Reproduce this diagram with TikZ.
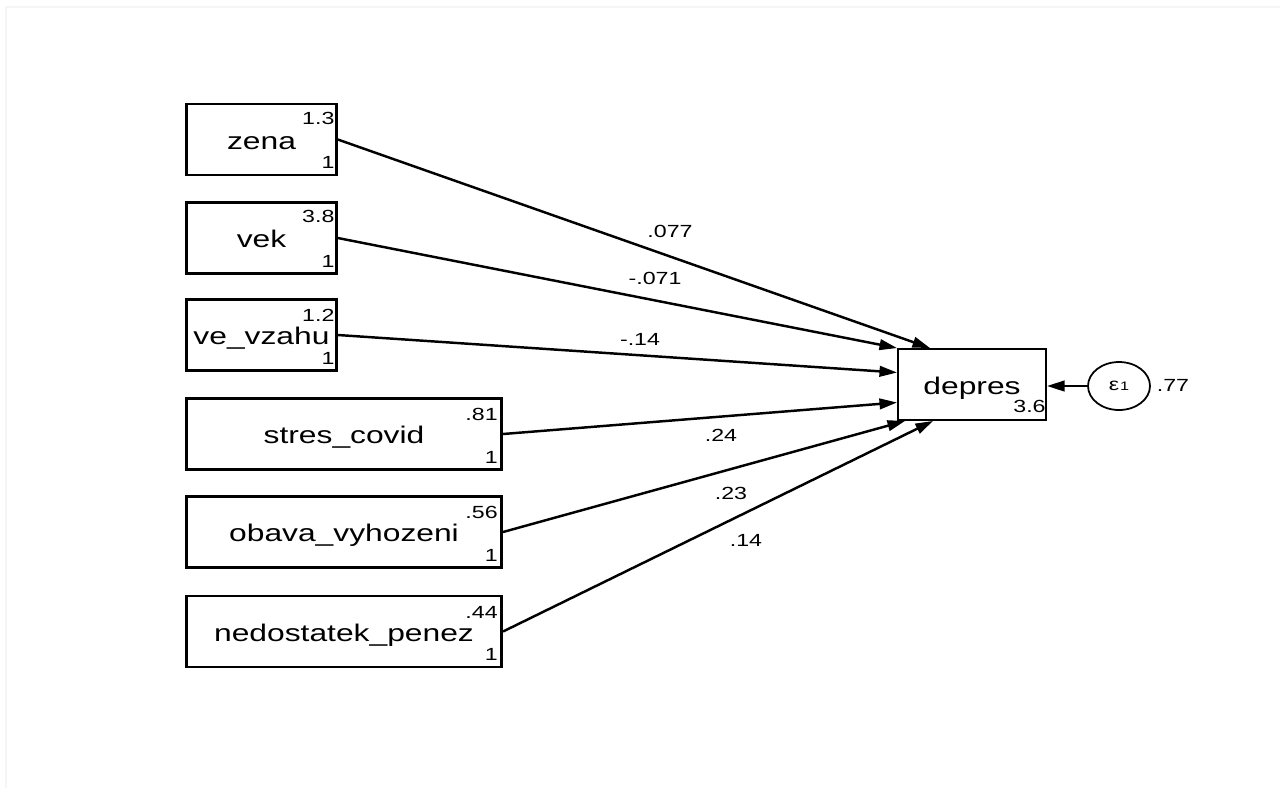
\documentclass[tikz,border=0pt]{standalone}
\usepackage{fontspec}
\setmainfont{Liberation Sans}[FakeStretch=1.32]
\usetikzlibrary{arrows.meta,calc,shapes.geometric}

\tikzset{
  var/.style={draw, line width=1.5pt, minimum height=1.42cm, inner sep=0pt,
    text height=12pt, text depth=1pt,
    font=\fontsize{13.7}{16}\selectfont},
  shortvar/.style={var, minimum width=3.0cm},
  longvar/.style={var, minimum width=6.31cm},
  num/.style={inner sep=0pt, font=\fontsize{10}{12}\selectfont},
  coef/.style={inner sep=0pt, font=\fontsize{10}{12}\selectfont},
  coefarrow/.style={line width=1.4pt, -{Stealth[length=10pt,width=6pt,inset=0pt]}},
}

\begin{document}
\begin{tikzpicture}[x=0.02cm, y=-0.02cm]
            \useasboundingbox (0,0) rectangle (1280,788);
            \draw [black!4, line width=1pt] (6,788) -- (6,7) -- (1280,7);

            % exogenous variables
            \node [shortvar] (zena) at (261.5,139.5) {zena};
            \node [shortvar] (vek) at (261.5,238) {vek};
            \node [shortvar] (vzahu) at (261.5,335) {ve\_vzahu};
            \node [longvar] (stres) at (344,434) {stres\_covid};
            \node [longvar] (obava) at (344,532) {obava\_vyhozeni};
            \node [longvar] (penize) at (344,631.5) {nedostatek\_penez};

            % means and variances
            \node [num, anchor=north east] (zena-m) at ($(zena.north east)+(-3,9)$) {1.3};
            \node [num, anchor=south east] (zena-v) at ($(zena.south east)+(-3,-7)$) {1};
            \node [num, anchor=north east] (vek-m) at ($(vek.north east)+(-3,9)$) {3.8};
            \node [num, anchor=south east] (vek-v) at ($(vek.south east)+(-3,-7)$) {1};
            \node [num, anchor=north east] (vzahu-m) at ($(vzahu.north east)+(-3,11)$) {1.2};
            \node [num, anchor=south east] (vzahu-v) at ($(vzahu.south east)+(-3,-7)$) {1};
            \node [num, anchor=north east] (stres-m) at ($(stres.north east)+(-5,11)$) {.81};
            \node [num, anchor=south east] (stres-v) at ($(stres.south east)+(-5,-7)$) {1};
            \node [num, anchor=north east] (obava-m) at ($(obava.north east)+(-5,11)$) {.56};
            \node [num, anchor=south east] (obava-v) at ($(obava.south east)+(-5,-7)$) {1};
            \node [num, anchor=north east] (penize-m) at ($(penize.north east)+(-5,11)$) {.44};
            \node [num, anchor=south east] (penize-v) at ($(penize.south east)+(-5,-7)$) {1};

            % outcome and error
            \node [var, line width=1.1pt, minimum width=2.96cm] (depres) at (972,384.5) {depres};
            \node [num, anchor=south east] (depres-m) at ($(depres.south east)+(-1,-8)$) {3.6};
            \node [draw, ellipse, line width=1pt, minimum width=1.24cm, minimum height=0.96cm,
                   inner sep=0pt, font=\fontsize{10}{12}\selectfont] (eps) at (1119,386)
                  {ε\kern0.5pt{\fontsize{7}{8}\selectfont 1}};
            \node [num] (eps-v) at (1173,385) {.77};

            % paths
            \draw [coefarrow] (zena.east) -- ($(depres.north west)+(33,0)$);
            \draw [coefarrow] (vek.east) -- (depres.north west);
            \draw [coefarrow] (vzahu.east) -- ($(depres.west)+(0,-12)$);
            \draw [coefarrow] (stres.east) -- ($(depres.west)+(0,18)$);
            \draw [coefarrow] (obava.east) -- ($(depres.south west)+(8,0)$);
            \draw [coefarrow] (penize.east) -- ($(depres.south west)+(36,0)$);
            \draw [coefarrow] (eps.west) -- (eps.west -| depres.east);

            \node [coef] (c-zena) at (670,231) {.077};
            \node [coef] (c-vek) at (655,278) {-.071};
            \node [coef] (c-vzahu) at (640,339) {-.14};
            \node [coef] (c-stres) at (721,435) {.24};
            \node [coef] (c-obava) at (731,493) {.23};
            \node [coef] (c-penize) at (746,540) {.14};
        \end{tikzpicture}
\end{document}
